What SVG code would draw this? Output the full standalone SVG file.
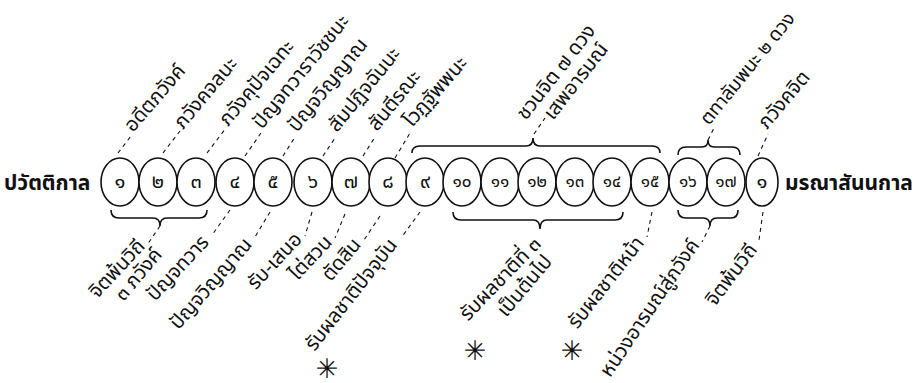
<svg xmlns="http://www.w3.org/2000/svg" width="918" height="383" viewBox="0 0 918 383">
<style>
.bg{fill:#fff}
.c{fill:#fff;stroke:#111;stroke-width:1.6}
.n{font-family:"Noto Sans Thai","Noto Sans","DejaVu Sans",sans-serif;font-size:20px;fill:#111;text-anchor:middle}
.n2{font-size:17px}
.l{font-family:"Noto Sans Thai","Noto Sans","DejaVu Sans",sans-serif;font-size:20px;fill:#111}
.sm{font-size:19px}
.e{text-anchor:end}
.big{font-family:"Noto Sans Thai","Noto Sans","DejaVu Sans",sans-serif;font-size:21px;font-weight:bold;fill:#111}
.d{fill:none;stroke:#111;stroke-width:1.1;stroke-dasharray:4 4}
.b{fill:none;stroke:#111;stroke-width:1.6}
.s{font-family:"DejaVu Sans","Liberation Sans",sans-serif;font-size:27px;fill:#111;text-anchor:middle}
</style>
<rect class="bg" width="918" height="383"/>
<g id="side-labels">
<text class="big" x="4" y="190">ปวัตติกาล</text>
<text class="big" x="785" y="190">มรณาสันนกาล</text>
</g>
<g id="node-1"><ellipse class="c" cx="120" cy="182" rx="19" ry="24"/><text class="n" x="120" y="188">๑</text></g>
<g id="node-2"><ellipse class="c" cx="158" cy="182" rx="19" ry="24"/><text class="n" x="158" y="188">๒</text></g>
<g id="node-3"><ellipse class="c" cx="196" cy="182" rx="19" ry="24"/><text class="n" x="196" y="188">๓</text></g>
<g id="node-4"><ellipse class="c" cx="235" cy="182" rx="19" ry="24"/><text class="n" x="235" y="188">๔</text></g>
<g id="node-5"><ellipse class="c" cx="273" cy="182" rx="19" ry="24"/><text class="n" x="273" y="188">๕</text></g>
<g id="node-6"><ellipse class="c" cx="313" cy="182" rx="19" ry="24"/><text class="n" x="313" y="188">๖</text></g>
<g id="node-7"><ellipse class="c" cx="351" cy="182" rx="19" ry="24"/><text class="n" x="351" y="188">๗</text></g>
<g id="node-8"><ellipse class="c" cx="388" cy="182" rx="19" ry="24"/><text class="n" x="388" y="188">๘</text></g>
<g id="node-9"><ellipse class="c" cx="425" cy="182" rx="19" ry="24"/><text class="n" x="425" y="188">๙</text></g>
<g id="node-10"><ellipse class="c" cx="462" cy="182" rx="19" ry="24"/><text class="n n2" x="462" y="187">๑๐</text></g>
<g id="node-11"><ellipse class="c" cx="500" cy="182" rx="19" ry="24"/><text class="n n2" x="500" y="187">๑๑</text></g>
<g id="node-12"><ellipse class="c" cx="537" cy="182" rx="19" ry="24"/><text class="n n2" x="537" y="187">๑๒</text></g>
<g id="node-13"><ellipse class="c" cx="575" cy="182" rx="19" ry="24"/><text class="n n2" x="575" y="187">๑๓</text></g>
<g id="node-14"><ellipse class="c" cx="612" cy="182" rx="19" ry="24"/><text class="n n2" x="612" y="187">๑๔</text></g>
<g id="node-15"><ellipse class="c" cx="650" cy="182" rx="19" ry="24"/><text class="n n2" x="650" y="187">๑๕</text></g>
<g id="node-16"><ellipse class="c" cx="688" cy="182" rx="19" ry="24"/><text class="n n2" x="688" y="187">๑๖</text></g>
<g id="node-17"><ellipse class="c" cx="726" cy="182" rx="19" ry="24"/><text class="n n2" x="726" y="187">๑๗</text></g>
<g id="node-18"><ellipse class="c" cx="762" cy="182" rx="16" ry="24"/><text class="n" x="762" y="188">๑</text></g>
<g id="connectors">
<path class="b" d="M412,153 Q412,146 420,146 L526,146 Q533,146 533,138 Q533,146 540,146 L652,146 Q660,146 660,153"/>
<path class="b" d="M678,155 Q678,147 686,147 L702,147 Q708,147 708,140 Q708,147 714,147 L732,147 Q740,147 740,155"/>
<path class="b" d="M111,210 Q111,218 119,218 L153,218 Q160,218 160,226 Q160,218 167,218 L199,218 Q207,218 207,210"/>
<path class="b" d="M453,212 Q453,220 461,220 L533,220 Q540,220 540,229 Q540,220 547,220 L615,220 Q623,220 623,212"/>
<path class="b" d="M678,210 Q678,218 686,218 L703,218 Q710,218 710,226 Q710,218 717,218 L731,218 Q738,218 738,210"/>
<path class="d" d="M118,153 L131,136"/>
<path class="d" d="M163,153 L180,131"/>
<path class="d" d="M207,153 L226,128"/>
<path class="d" d="M245,156 L261,133"/>
<path class="d" d="M283,156 L295,137"/>
<path class="d" d="M323,156 L335,138"/>
<path class="d" d="M363,156 L375,137"/>
<path class="d" d="M395,158 L410,133"/>
<path class="d" d="M534,134 L545,118"/>
<path class="d" d="M708,140 L715,126"/>
<path class="d" d="M758,156 L768,134"/>
<path class="d" d="M160,226 L147,245"/>
<path class="d" d="M230,210 L212,235"/>
<path class="d" d="M270,212 L255,237"/>
<path class="d" d="M312,212 L305,236"/>
<path class="d" d="M345,214 L335,238"/>
<path class="d" d="M380,216 L364,240"/>
<path class="d" d="M420,212 L401,238"/>
<path class="d" d="M652,212 L647,237"/>
<path class="d" d="M710,226 L702,242"/>
<path class="d" d="M763,212 L759,240"/>
</g>
<g id="upper-labels">
<text class="l" transform="translate(133,133) rotate(-49)">อดีตภวังค์</text>
<text class="l" transform="translate(183,130) rotate(-50)">ภวังคจลนะ</text>
<text class="l" transform="translate(228,127) rotate(-50)">ภวังคุปัจเฉทะ</text>
<text class="l" transform="translate(262,130) rotate(-51)">ปัญจทวาราวัชชนะ</text>
<text class="l" transform="translate(297,133) rotate(-51)">ปัญจวิญญาณ</text>
<text class="l" transform="translate(337,133) rotate(-51)">สัมปฏิจฉันนะ</text>
<text class="l" transform="translate(377,132) rotate(-51)">สันตีรณะ</text>
<text class="l" transform="translate(412,128) rotate(-49)">โวฏฐัพพนะ</text>
<text class="l" transform="translate(526,121) rotate(-52)">ชวนจิต ๗ ดวง</text>
<text class="l" transform="translate(553,121) rotate(-52)">เสพอารมณ์</text>
<text class="l sm" transform="translate(709,126) rotate(-51)">ตทาลัมพนะ ๒ ดวง</text>
<text class="l" transform="translate(767,130) rotate(-50)">ภวังคจิต</text>
</g>
<g id="lower-labels">
<text class="l e" transform="translate(146,247) rotate(-47)">จิตพ้นวิถี</text>
<text class="l e" transform="translate(163,255) rotate(-50)">๓ ภวังค์</text>
<text class="l e" transform="translate(210,243) rotate(-47)">ปัญจทวาร</text>
<text class="l e" transform="translate(253,245) rotate(-49)">ปัญจวิญญาณ</text>
<text class="l e" transform="translate(303,240) rotate(-47)">รับ-เสนอ</text>
<text class="l e" transform="translate(333,243) rotate(-47)">ไต่สวน</text>
<text class="l e" transform="translate(362,245) rotate(-50)">ตัดสิน</text>
<text class="l e" transform="translate(398,245) rotate(-52)">รับผลชาติปัจจุบัน</text>
<text class="l e" transform="translate(542,245) rotate(-46)">รับผลชาติที่ ๓</text>
<text class="l e" transform="translate(553,262) rotate(-50)">เป็นต้นไป</text>
<text class="l e" transform="translate(645,243) rotate(-52)">รับผลชาติหน้า</text>
<text class="l e" transform="translate(700,245) rotate(-56)">หน่วงอารมณ์สู่ภวังค์</text>
<text class="l e" transform="translate(758,250) rotate(-53)">จิตพ้นวิถี</text>
</g>
<g id="marks">
<text class="s" x="327" y="378">✳&#xFE0E;</text>
<text class="s" x="475" y="360">✳&#xFE0E;</text>
<text class="s" x="572" y="360">✳&#xFE0E;</text>
</g>
</svg>
